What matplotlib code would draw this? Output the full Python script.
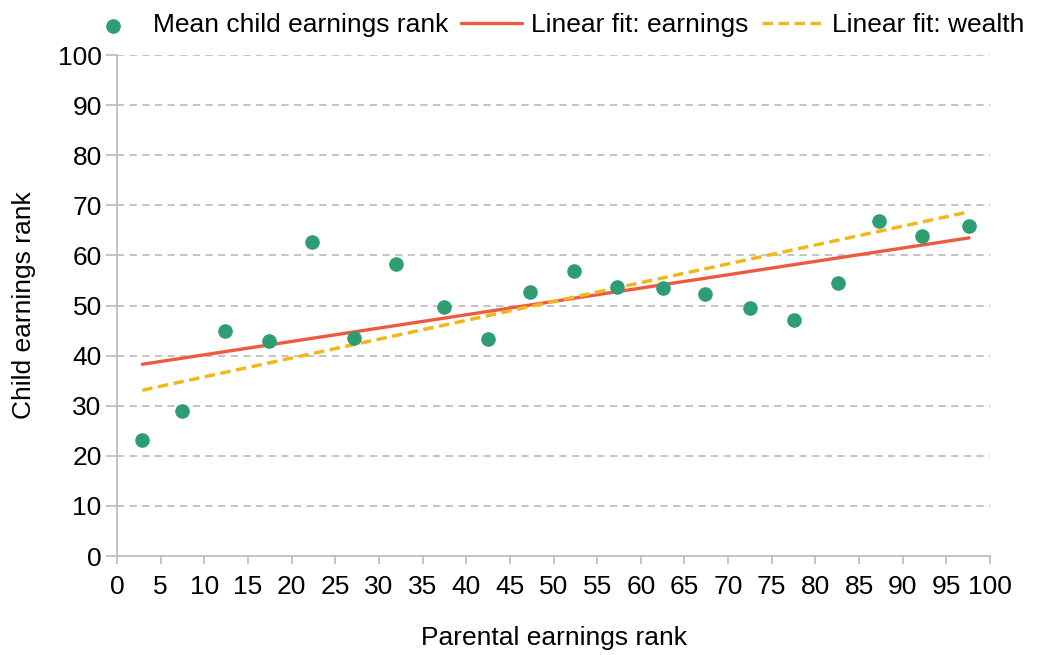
import numpy as np
import matplotlib.pyplot as plt

plt.rcParams['font.family'] = ['Liberation Sans', 'DejaVu Sans']

# Binned parental earnings rank (x) and mean child earnings rank (y)
parent_rank = [2.9, 7.5, 12.4, 17.4, 22.3, 27.2, 32.0, 37.4, 42.5, 47.3,
               52.3, 57.3, 62.5, 67.4, 72.5, 77.6, 82.6, 87.3, 92.2, 97.6]
child_rank = [23.2, 28.9, 44.9, 42.9, 62.7, 43.5, 58.3, 49.8, 43.3, 52.7,
              56.9, 53.7, 53.5, 52.3, 49.5, 47.2, 54.5, 66.9, 63.9, 65.9]

# Linear fits (intercept, slope)
fit_earnings = (37.5, 0.2664)
fit_wealth = (32.0, 0.376)

x_ticks = list(range(0, 101, 5))
y_ticks = list(range(0, 101, 10))

GREEN = '#2E9E72'
RED = '#EE5A40'
YELLOW = '#F3B71D'
GRID = '#BFBFBF'
FS = 19

fig = plt.figure(figsize=(10.38, 6.55), dpi=100)
ax = fig.add_axes([0.1127, 0.1511, 0.8411, 0.7649])

ax.scatter(parent_rank, child_rank, s=90, color=GREEN, zorder=3,
           label='Mean child earnings rank')

xs = np.array([parent_rank[0], parent_rank[-1]])
ax.plot(xs, fit_earnings[0] + fit_earnings[1] * xs, color=RED, lw=2.4,
        solid_capstyle='round', label='Linear fit: earnings', zorder=2)
ax.plot(xs, fit_wealth[0] + fit_wealth[1] * xs, color=YELLOW, lw=2.5,
        ls=(0, (3, 1.6)), label='Linear fit: wealth', zorder=2)

ax.set_xlim(0, 100)
ax.set_ylim(0, 100)
ax.set_xticks(x_ticks)
ax.set_yticks(y_ticks)

ax.yaxis.grid(True, color=GRID, ls=(0, (4, 3)), lw=1.3)
ax.set_axisbelow(True)
for side in ['top', 'right']:
    ax.spines[side].set_visible(False)
for side in ['left', 'bottom']:
    ax.spines[side].set_color(GRID)
    ax.spines[side].set_linewidth(1.3)

ax.tick_params(axis='both', colors=GRID, labelcolor='black', labelsize=FS)
ax.tick_params(axis='x', length=6, width=1.3, pad=8)
ax.tick_params(axis='y', length=8, width=1.3, pad=3)

ax.set_xlabel('Parental earnings rank', fontsize=FS, labelpad=19)
ax.set_ylabel('Child earnings rank', fontsize=FS, labelpad=16)

ax.legend(loc='lower center', bbox_to_anchor=(0.5, 1.035), ncol=3,
          frameon=False, fontsize=FS, handlelength=2.3, handletextpad=0.35,
          columnspacing=0.5, borderaxespad=0, borderpad=0)

fig.savefig('out.png', dpi=100)
